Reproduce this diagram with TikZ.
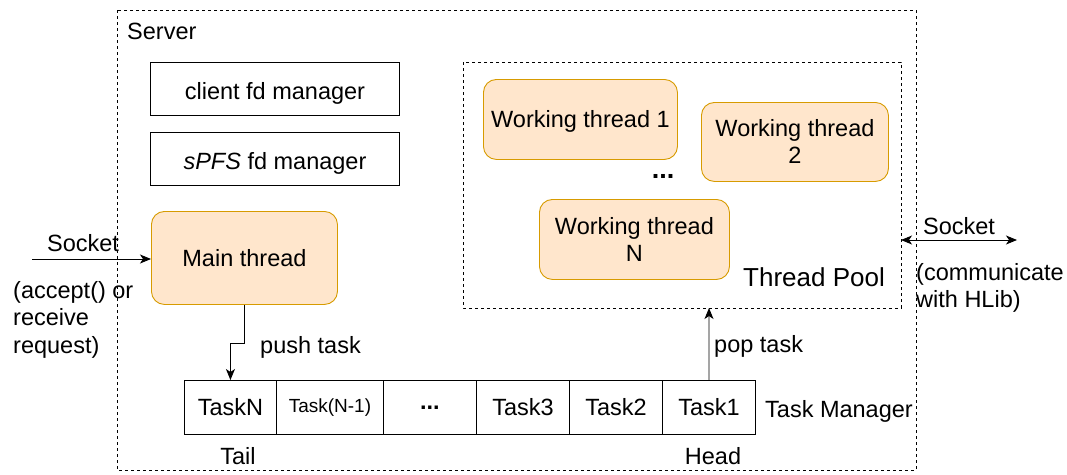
\documentclass[tikz,border=0pt]{standalone}
\usepackage{fontspec}
\setmainfont{Liberation Sans}
\usetikzlibrary{arrows.meta,calc}
\begin{document}
\begin{tikzpicture}[x=1pt,y=-1pt,
  every node/.style={font=\fontsize{23.5}{27}\selectfont, inner sep=0pt},
  dbox/.style={draw=black, dash pattern=on 3pt off 3pt, line width=0.9pt},
  plain/.style={draw=black, line width=0.9pt, minimum height=53pt, anchor=north west, text height=22pt, text depth=0pt},
  thr/.style={draw={rgb,255:red,215;green,155;blue,0}, fill={rgb,255:red,255;green,230;blue,204}, rounded corners=13pt, line width=0.9pt, align=center, anchor=north west, text depth=0pt},
  cell/.style={draw=black, line width=0.9pt, minimum height=54pt, anchor=north west},
  arr/.style={line width=0.9pt, -{Stealth[length=11pt,width=9pt,inset=3pt]}},
  lbl/.style={anchor=center}
]
\useasboundingbox (0,0) rectangle (1067,474);
% server
\draw[dbox] (117,10) rectangle (916,470);
\node[anchor=west] (server) at (127,31) {Server};
% managers
\node[plain, minimum width=249pt] (cfd) at (150,62) {client fd manager};
\node[plain, minimum width=249pt] (sfd) at (150,132) {\textit{sPFS} fd manager};
% main thread
\node[thr, minimum width=186pt, minimum height=93pt] (main) at (151,211) {Main thread};
% thread pool
\draw[dbox] (463,62) rectangle (901,308);
\coordinate (poolS) at (709,308);
\coordinate (poolE) at (901,240);
\node[thr, minimum width=194pt, minimum height=80pt] (w1) at (483,79) {Working thread 1};
\node[thr, minimum width=187pt, minimum height=79pt] (w2) at (701,102) {Working thread\\2};
\node[thr, minimum width=190pt, minimum height=80pt] (wn) at (539,199) {Working thread\\N};
\node[anchor=base, font=\fontsize{27}{30}\selectfont\bfseries] (dots1) at (663,178) {...};
\node[lbl, font=\fontsize{26}{30}\selectfont] (pool) at (814,277) {Thread Pool};
% tasks
\node[cell, minimum width=92pt] (tN) at (184,380) {TaskN};
\node[cell, minimum width=107pt, font=\fontsize{19}{22}\selectfont] (tN1) at (276,380) {Task(N-1)};
\node[cell, minimum width=93pt, font=\fontsize{23.5}{27}\selectfont\bfseries] (tdots) at (383,380) {...};
\node[cell, minimum width=93pt] (t3) at (476,380) {Task3};
\node[cell, minimum width=93pt] (t2) at (569,380) {Task2};
\node[cell, minimum width=93pt] (t1) at (662,380) {Task1};
\node[anchor=west] (tm) at (765,411) {Task Manager};
\node[lbl] (tail) at (238,456) {Tail};
\node[lbl] (head) at (713,456) {Head};
% left socket
\coordinate (sockL) at (32,259);
\draw[arr] (sockL) -- (main.west |- sockL);
\node[lbl] (sockLlbl) at (83,243) {Socket};
\node[anchor=north west, align=left, font=\fontsize{23.5}{27.5}\selectfont] (acc) at (13,281) {(accept() or\\receive\\request)};
% push task
\draw[arr] (main.south) -- ++(0,39) -| (tN.north);
\node[anchor=west] (push) at (260,347) {push task};
% pop task
\draw[arr] (t1.north) -- (poolS);
\node[anchor=west] (pop) at (714,346) {pop task};
% right socket
\coordinate (sockR) at (1017,240);
\draw[line width=0.9pt, {Stealth[length=11pt,width=9pt,inset=3pt]}-{Stealth[length=11pt,width=9pt,inset=3pt]}] (poolE) -- (sockR);
\node[lbl] (sockRlbl) at (959,226) {Socket};
\node[anchor=north west, align=left, font=\fontsize{23.5}{27}\selectfont] (comm) at (916,263) {(communicate\\with HLib)};
\end{tikzpicture}
\end{document}
